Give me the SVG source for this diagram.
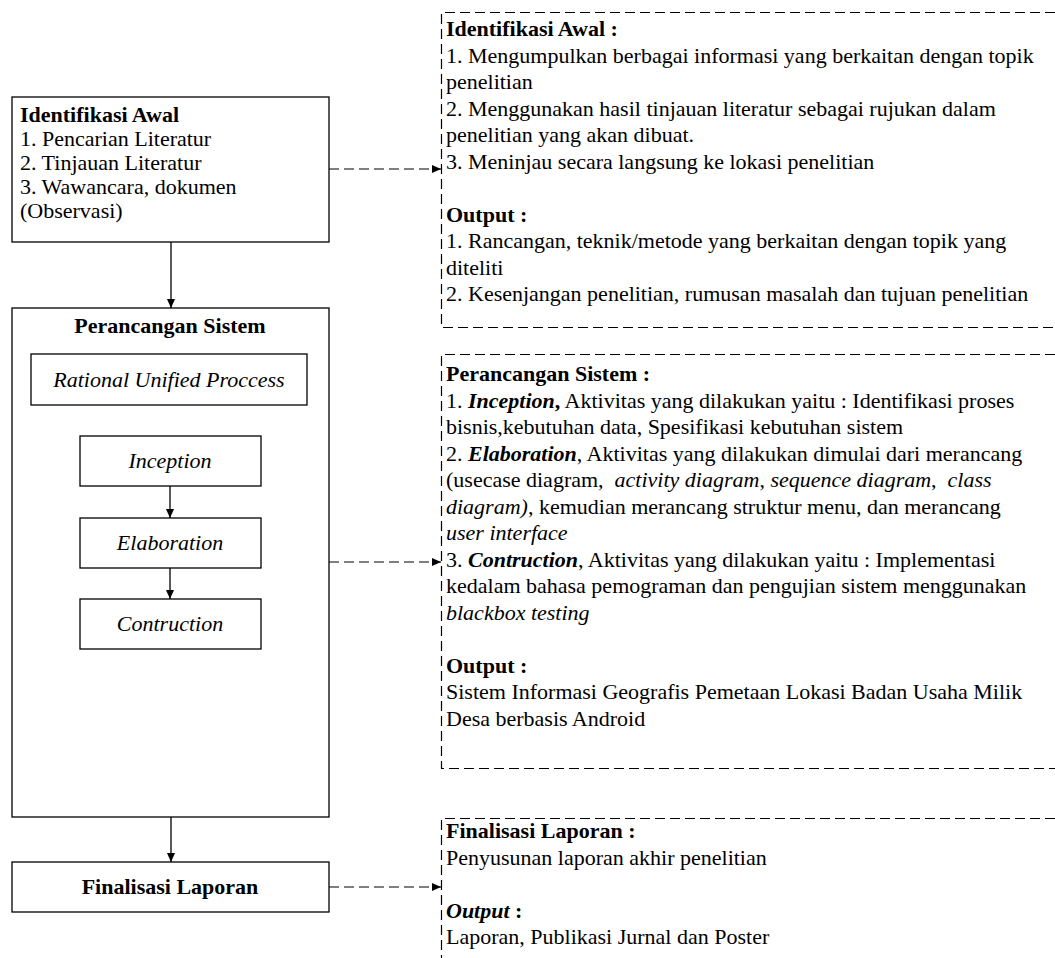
<svg xmlns="http://www.w3.org/2000/svg" width="1055" height="958" viewBox="0 0 1055 958">
<defs>
<marker id="ah" markerWidth="10" markerHeight="10" refX="9" refY="5" orient="auto" markerUnits="userSpaceOnUse">
<path d="M0,1 L9,5 L0,9 Z" fill="#000"/>
</marker>
<style>
text{font-family:"Liberation Serif","Times New Roman",serif;font-size:22px;fill:#000;white-space:pre}
.b{font-weight:bold}
.i{font-style:italic}
.bi{font-weight:bold;font-style:italic}
.c{text-anchor:middle}
.box{fill:#fff;stroke:#000;stroke-width:1.3}
.sol{stroke:#000;stroke-width:1.3;fill:none}
.dash{stroke:#000;stroke-width:1.2;fill:none;stroke-dasharray:10 5}
</style>
</defs>
<rect width="1055" height="958" fill="#fff"/>

<g id="identifikasi">
<rect class="box" x="12" y="97" width="317" height="145"/>
<text x="20" y="122" class="b">Identifikasi Awal</text>
<text x="20" y="146">1. Pencarian Literatur</text>
<text x="20" y="170">2. Tinjauan Literatur</text>
<text x="20" y="194">3. Wawancara, dokumen</text>
<text x="20" y="218">(Observasi)</text>
</g>

<g id="perancangan">
<rect class="box" x="12" y="308" width="317" height="509"/>
<text x="170" y="333" class="b c">Perancangan Sistem</text>
</g>
<g id="rup">
<rect class="box" x="31" y="354" width="276" height="51"/>
<text x="169" y="387" class="i c">Rational Unified Proccess</text>
</g>
<g id="inception">
<rect class="box" x="80" y="436" width="181" height="50"/>
<text x="170" y="468" class="i c">Inception</text>
</g>
<g id="elaboration">
<rect class="box" x="80" y="518" width="181" height="50"/>
<text x="170" y="550" class="i c">Elaboration</text>
</g>
<g id="contruction">
<rect class="box" x="80" y="599" width="181" height="50"/>
<text x="170" y="631" class="i c">Contruction</text>
</g>
<g id="finalisasi">
<rect class="box" x="12" y="862" width="317" height="50"/>
<text x="170" y="894" class="b c">Finalisasi Laporan</text>
</g>

<g id="ket-identifikasi">
<path class="dash" d="M1055,12.5 H441.5 V327.5 H1055"/>
<text x="446" y="36" class="b">Identifikasi Awal :</text>
<text x="446" y="62.5">1. Mengumpulkan berbagai informasi yang berkaitan dengan topik</text>
<text x="446" y="89">penelitian</text>
<text x="446" y="115.5">2. Menggunakan hasil tinjauan literatur sebagai rujukan dalam</text>
<text x="446" y="142">penelitian yang akan dibuat.</text>
<text x="446" y="168.5">3. Meninjau secara langsung ke lokasi penelitian</text>
<text x="446" y="221.5" class="b">Output :</text>
<text x="446" y="248">1. Rancangan, teknik/metode yang berkaitan dengan topik yang</text>
<text x="446" y="274.5">diteliti</text>
<text x="446" y="301">2. Kesenjangan penelitian, rumusan masalah dan tujuan penelitian</text>
</g>

<g id="ket-perancangan">
<path class="dash" d="M1055,354.5 H441.5 V768.5 H1055"/>
<text x="446" y="381" class="b">Perancangan Sistem :</text>
<text x="446" y="407.5">1. <tspan class="bi">Inception</tspan><tspan class="b">,</tspan> Aktivitas yang dilakukan yaitu : Identifikasi proses</text>
<text x="446" y="434">bisnis,kebutuhan data, Spesifikasi kebutuhan sistem</text>
<text x="446" y="460.5">2. <tspan class="bi">Elaboration</tspan>, Aktivitas yang dilakukan dimulai dari merancang</text>
<text x="446" y="487">(usecase diagram,  <tspan class="i">activity diagram</tspan>, <tspan class="i">sequence diagram</tspan>,  <tspan class="i">class</tspan></text>
<text x="446" y="513.5"><tspan class="i">diagram)</tspan>, kemudian merancang struktur menu, dan merancang</text>
<text x="446" y="540" class="i">user interface</text>
<text x="446" y="566.5">3. <tspan class="bi">Contruction</tspan>, Aktivitas yang dilakukan yaitu : Implementasi</text>
<text x="446" y="593">kedalam bahasa pemograman dan pengujian sistem menggunakan</text>
<text x="446" y="619.5" class="i">blackbox testing</text>
<text x="446" y="672.5" class="b">Output :</text>
<text x="446" y="699">Sistem Informasi Geografis Pemetaan Lokasi Badan Usaha Milik</text>
<text x="446" y="725.5">Desa berbasis Android</text>
</g>

<g id="ket-finalisasi">
<path class="dash" d="M1055,818.5 H441.5 V958"/>
<text x="446" y="838" class="b">Finalisasi Laporan :</text>
<text x="446" y="864.5">Penyusunan laporan akhir penelitian</text>
<text x="446" y="917.5"><tspan class="bi">Output</tspan><tspan class="b"> :</tspan></text>
<text x="446" y="944">Laporan, Publikasi Jurnal dan Poster</text>
</g>

<g id="connectors">
<line class="sol" x1="171" y1="242" x2="171" y2="308" marker-end="url(#ah)"/>
<line class="sol" x1="170" y1="486" x2="170" y2="518" marker-end="url(#ah)"/>
<line class="sol" x1="170" y1="568" x2="170" y2="599" marker-end="url(#ah)"/>
<line class="sol" x1="171" y1="817" x2="171" y2="862" marker-end="url(#ah)"/>
<line class="dash" x1="329" y1="169" x2="441" y2="169" marker-end="url(#ah)"/>
<line class="dash" x1="329" y1="562" x2="441" y2="562" marker-end="url(#ah)"/>
<line class="dash" x1="329" y1="887" x2="441" y2="887" marker-end="url(#ah)"/>
</g>
</svg>
